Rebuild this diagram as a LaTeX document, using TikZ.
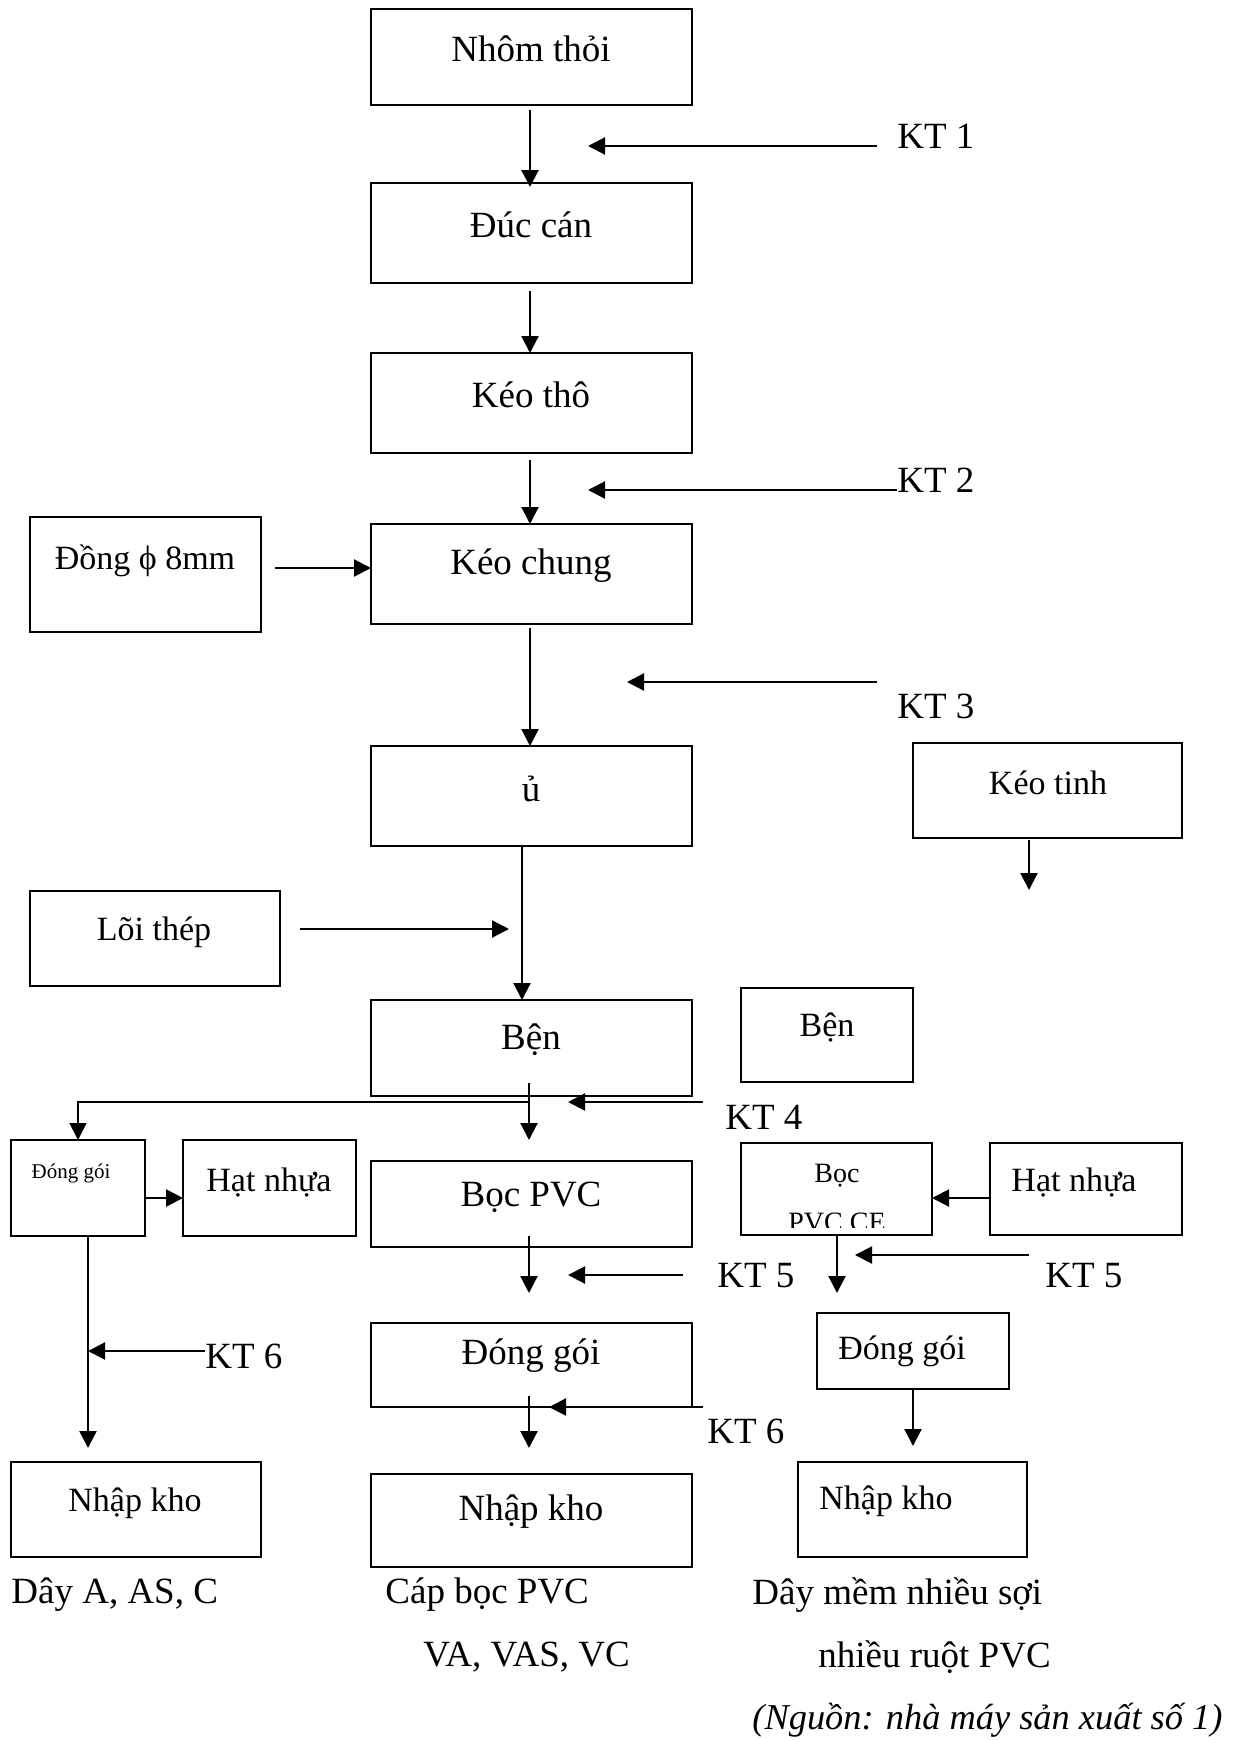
\documentclass[tikz,border=0pt]{standalone}
\usepackage{fontspec}
\setmainfont{Liberation Serif}
\usetikzlibrary{arrows.meta}
\newcommand{\bx}[5]{\node[box, minimum width={(#4-#2)*0.5pt}, minimum height={(#5-#3)*0.5pt}] (#1) at ({(#2+#4)/2},{(#3+#5)/2}) {};}
\tikzset{
  box/.style={draw, line width=1pt, inner sep=0pt, outer sep=0pt},
  main/.style={font=\fontsize{18.5}{22}\selectfont, inner sep=0pt},
  side/.style={font=\fontsize{17}{20}\selectfont, inner sep=0pt},
  smallt/.style={font=\fontsize{14}{17}\selectfont, inner sep=0pt},
  tinyt/.style={font=\fontsize{10.5}{13}\selectfont, inner sep=0pt},
  arr/.style={line width=1.1pt, -{Triangle[length=8.5pt, width=8.5pt]}},
  ln/.style={line width=1pt}
}
\begin{document}
\begin{tikzpicture}[x=0.5pt,y=-0.5pt]
\useasboundingbox (0,0) rectangle (1235,1740);
% boxes
\bx{nhom}{371}{9}{692}{105}
\node[main] (tnhom) at (531,49) {Nhôm thỏi};
\bx{duc}{371}{183}{692}{283}
\node[main] (tduc) at (531,225) {Đúc cán};
\bx{keotho}{371}{353}{692}{453}
\node[main] (tkeotho) at (531,395) {Kéo thô};
\bx{keochung}{371}{524}{692}{624}
\node[main] (tkeochung) at (531,566) {Kéo chung};
\bx{dong}{30}{517}{261}{632}
\node[side] (tdong) at (145,561) {Đồng ϕ 8mm};
\bx{u}{371}{746}{692}{846}
\node[main] (tu) at (531,789) {ủ};
\bx{keotinh}{913}{743}{1182}{838}
\node[side] (tkeotinh) at (1048,783) {Kéo tinh};
\bx{loithep}{30}{891}{280}{986}
\node[side] (tloithep) at (154,932) {Lõi thép};
\bx{ben}{371}{1000}{692}{1096}
\node[main] (tben) at (531,1040) {Bện};
\bx{bentwo}{741}{988}{913}{1082}
\node[side] (tbentwo) at (827,1027) {Bện};
\bx{dgL}{11}{1140}{145}{1236}
\node[tinyt] (tdgL) at (71,1173) {Đóng gói};
\bx{hnL}{183}{1140}{356}{1236}
\node[side] (thnL) at (269,1183) {Hạt nhựa};
\bx{boc}{371}{1161}{692}{1247}
\node[main] (tboc) at (531,1197) {Bọc PVC};
\bx{bocce}{741}{1143}{932}{1235}
\node[smallt] (tbocce) at (837,1176) {Bọc};
\begin{scope}
\clip (741,1143) rectangle (932,1227);
\node[smallt, anchor=base] (tbocceb) at (837,1231) {PVC CE};
\end{scope}
\bx{hnR}{990}{1143}{1182}{1235}
\node[side] (thnR) at (1074,1183) {Hạt nhựa};
\bx{dgC}{371}{1323}{692}{1407}
\node[main] (tdgC) at (531,1356) {Đóng gói};
\bx{dgR}{817}{1313}{1009}{1389}
\node[side] (tdgR) at (902,1351) {Đóng gói};
\bx{nkL}{11}{1462}{261}{1557}
\node[side] (tnkL) at (135,1503) {Nhập kho};
\bx{nkC}{371}{1474}{692}{1567}
\node[main] (tnkC) at (531,1512) {Nhập kho};
\bx{nkR}{798}{1462}{1027}{1557}
\node[side] (tnkR) at (886,1501) {Nhập kho};
% KT labels
\node[main, anchor=west] (kt1) at (897,136) {KT 1};
\node[main, anchor=west] (kt2) at (897,480) {KT 2};
\node[main, anchor=west] (kt3) at (897,706) {KT 3};
\node[main, anchor=west] (kt4) at (725,1117) {KT 4};
\node[main, anchor=west] (kt5a) at (717,1276) {KT 5};
\node[main, anchor=west] (kt5b) at (1045,1276) {KT 5};
\node[main, anchor=west] (kt6a) at (205,1356) {KT 6};
\node[main, anchor=west] (kt6b) at (707,1431) {KT 6};
% captions
\node[main, anchor=west] (capA) at (11,1595) {Dây A, AS, C};
\node[main, anchor=west] (capB) at (385,1595) {Cáp bọc PVC};
\node[main, anchor=west] (capC) at (423,1657) {VA, VAS, VC};
\node[main, anchor=west] (capD) at (752,1595) {Dây mềm nhiều sợi};
\node[main, anchor=west] (capE) at (818,1657) {nhiều ruột PVC};
\node[main, anchor=west, font=\fontsize{18.2}{22}\selectfont\itshape] (src) at (752,1720) {(Nguồn: nhà máy sản xuất số 1)};
% coordinates
\coordinate (a1s) at (530,110);
\coordinate (a1e) at (530,187);
\coordinate (a2s) at (530,291);
\coordinate (a3s) at (530,460);
\coordinate (a4s) at (530,628);
\coordinate (a5s) at (522,846);
\coordinate (a6s) at (529,1083);
\coordinate (a6e) at (529,1140);
\coordinate (split) at (529,1102);
\coordinate (a7s) at (529,1236);
\coordinate (a7e) at (529,1293);
\coordinate (a8s) at (529,1396);
\coordinate (a8e) at (529,1448);
\coordinate (kt1s) at (877,146);
\coordinate (kt1e) at (588,146);
\coordinate (kt2s) at (897,490);
\coordinate (kt2e) at (588,490);
\coordinate (kt3s) at (877,682);
\coordinate (kt3e) at (627,682);
\coordinate (kt4s) at (703,1102);
\coordinate (kt4e) at (568,1102);
\coordinate (kt5as) at (683,1275);
\coordinate (kt5ae) at (568,1275);
\coordinate (kt5bs) at (1029,1255);
\coordinate (kt5be) at (855,1255);
\coordinate (kt6as) at (205,1351);
\coordinate (kt6ae) at (88,1351);
\coordinate (kt6bs) at (703,1407);
\coordinate (kt6be) at (549,1407);
\coordinate (dgs) at (275,568);
\coordinate (lts) at (300,929);
\coordinate (lte) at (509,929);
\coordinate (kts) at (1029,840);
\coordinate (kte) at (1029,890);
\coordinate (ces) at (837,1235);
\coordinate (cee) at (837,1293);
\coordinate (dgRs) at (913,1389);
\coordinate (dgRe) at (913,1446);
\coordinate (dgLs) at (88,1236);
\coordinate (dgLe) at (88,1448);
% main column arrows
\draw[arr] (a1s) -- (a1e);
\draw[arr] (a2s) -- (a2s |- keotho.north);
\draw[arr] (a3s) -- (a3s |- keochung.north);
\draw[arr] (a4s) -- (a4s |- u.north);
\draw[arr] (a5s) -- (a5s |- ben.north);
\draw[arr] (a6s) -- (a6e);
\draw[line width=0.8pt, -{Triangle[length=8.5pt, width=8.5pt]}] (split) -| (dgL.north);
\draw[arr] (a7s) -- (a7e);
\draw[arr] (a8s) -- (a8e);
% KT arrows
\draw[arr] (kt1s) -- (kt1e);
\draw[arr] (kt2s) -- (kt2e);
\draw[arr] (kt3s) -- (kt3e);
\draw[arr] (kt4s) -- (kt4e);
\draw[arr] (kt5as) -- (kt5ae);
\draw[arr] (kt5bs) -- (kt5be);
\draw[arr] (kt6as) -- (kt6ae);
\draw[arr] (kt6bs) -- (kt6be);
% side arrows
\draw[arr] (dgs) -- (dgs -| keochung.west);
\draw[arr] (lts) -- (lte);
\draw[arr] (kts) -- (kte);
\draw[arr] (dgL.east |- 0,1198) -- (hnL.west |- 0,1198);
\draw[arr] (hnR.west |- 0,1198) -- (bocce.east |- 0,1198);
\draw[arr] (ces) -- (cee);
\draw[arr] (dgRs) -- (dgRe);
\draw[arr] (dgLs) -- (dgLe);
\end{tikzpicture}
\end{document}
